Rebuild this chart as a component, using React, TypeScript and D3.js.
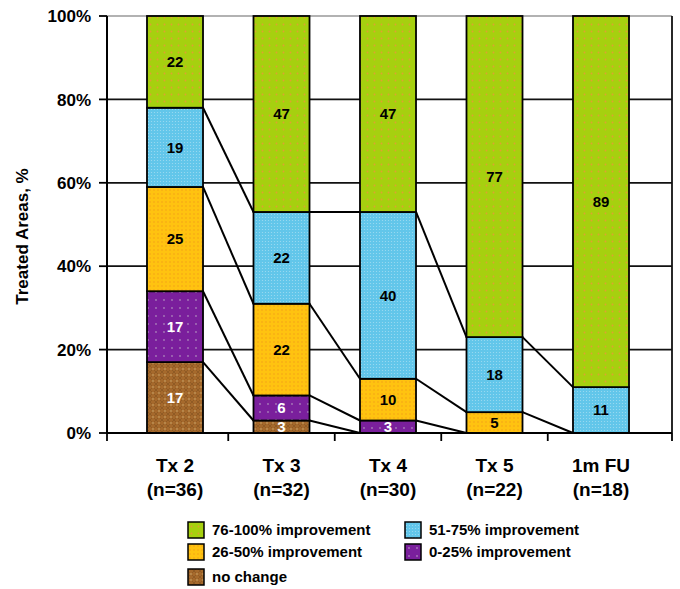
import React from "react";
import * as d3 from "d3";

// Treatment visits and the number of treated areas at each
const visits = ["Tx 2", "Tx 3", "Tx 4", "Tx 5", "1m FU"];
const counts = ["(n=36)", "(n=32)", "(n=30)", "(n=22)", "(n=18)"];

// Percentage of treated areas per improvement class, bottom to top
const noChange = [17, 3, 0, 0, 0];
const improve0to25 = [17, 6, 3, 0, 0];
const improve26to50 = [25, 22, 10, 5, 0];
const improve51to75 = [19, 22, 40, 18, 11];
const improve76to100 = [22, 47, 47, 77, 89];

const seriesNames = [
  "no change",
  "0-25% improvement",
  "26-50% improvement",
  "51-75% improvement",
  "76-100% improvement",
];
const seriesValues = [noChange, improve0to25, improve26to50, improve51to75, improve76to100];
const seriesColors = ["#a5692c", "#7a1f9c", "#ffc310", "#62c6ea", "#a6d00f"];
const labelColors = ["#fff", "#fff", "#000", "#000", "#000"];

const yTicks = [0, 20, 40, 60, 80, 100];

const W = 680;
const H = 589;
const plot = { left: 107, right: 672, top: 16, bottom: 433 };

export default function App() {
  const y = d3.scaleLinear().domain([0, 100]).range([plot.bottom, plot.top]);
  const x = d3
    .scaleBand<string>()
    .domain(visits)
    .range([121.75, 654.25])
    .paddingInner(0.474)
    .paddingOuter(0.237);
  const bw = x.bandwidth();
  const step = x.step();

  // stacked cumulative values per visit
  const stackData = visits.map((v, i) => {
    const row: Record<string, number | string> = { visit: v };
    seriesNames.forEach((s, k) => (row[s] = seriesValues[k][i]));
    return row;
  });
  const stack = d3.stack<Record<string, number | string>>().keys(seriesNames)(stackData as any);

  const fontFamily = "'Liberation Sans', Arial, sans-serif";

  // boundaries between categories for axis ticks
  const xTickPos = [
    plot.left,
    ...visits.slice(1).map((v) => (x(v) as number) - (step - bw) / 2),
    plot.right,
  ];

  const legendItems = [
    { k: 4, col: 0, row: 0 },
    { k: 3, col: 1, row: 0 },
    { k: 2, col: 0, row: 1 },
    { k: 1, col: 1, row: 1 },
    { k: 0, col: 0, row: 2 },
  ];
  const legendColX = [188, 405];
  const legendRowY = [530, 552, 577];

  return (
    <svg
      width={W}
      height={H}
      style={{ position: "absolute", left: 0, top: 0, background: "#fff" }}
      fontFamily={fontFamily}
    >
      <defs>
        <pattern id="p0" width="6" height="6" patternUnits="userSpaceOnUse">
          <rect width="6" height="6" fill={seriesColors[0]} />
          <path d="M0,0L6,6M6,0L0,6" stroke="#7a4a1c" strokeWidth="0.8" opacity="0.6" />
          <circle cx="3" cy="3" r="0.9" fill="#c99a5a" />
        </pattern>
        <pattern id="p1" width="8" height="8" patternUnits="userSpaceOnUse">
          <rect width="8" height="8" fill={seriesColors[1]} />
          <circle cx="4" cy="4" r="0.9" fill="#a77bb8" />
        </pattern>
        <pattern id="p2" width="4" height="4" patternUnits="userSpaceOnUse">
          <rect width="4" height="4" fill={seriesColors[2]} />
          <circle cx="2" cy="2" r="0.8" fill="#f29a18" opacity="0.8" />
        </pattern>
        <pattern id="p3" width="3" height="3" patternUnits="userSpaceOnUse">
          <rect width="3" height="3" fill={seriesColors[3]} />
          <circle cx="1.5" cy="1.5" r="0.6" fill="#9fdcf2" />
        </pattern>
        <pattern id="p4" width="7" height="7" patternUnits="userSpaceOnUse">
          <rect width="7" height="7" fill={seriesColors[4]} />
          <circle cx="3.5" cy="3.5" r="0.9" fill="#e0a030" />
        </pattern>
      </defs>

      {/* plot frame and gridlines */}
      <line x1={plot.left} x2={plot.right} y1={plot.top} y2={plot.top} stroke="#999" strokeWidth={1.5} />
      {yTicks.slice(1, -1).map((t) => (
        <line key={t} x1={plot.left} x2={plot.right} y1={y(t)} y2={y(t)} stroke="#111" strokeWidth={1.8} />
      ))}
      <line x1={plot.right} x2={plot.right} y1={plot.top} y2={plot.bottom} stroke="#111" strokeWidth={1.8} />

      {/* series lines joining the stacked segment tops of neighbouring bars */}
      {stack.slice(0, 4).map((layer, k) =>
        visits.slice(0, -1).map((v, i) => (
          <line
            key={`${k}-${i}`}
            x1={(x(v) as number) + bw}
            y1={y(layer[i][1])}
            x2={x(visits[i + 1]) as number}
            y2={y(layer[i + 1][1])}
            stroke="#000"
            strokeWidth={2}
          />
        ))
      )}

      {/* stacked bars */}
      {stack.map((layer, k) => (
        <g key={k}>
          {layer.map((d, i) =>
            d[1] - d[0] > 0 ? (
              <rect
                key={i}
                x={x(visits[i])}
                y={y(d[1])}
                width={bw}
                height={y(d[0]) - y(d[1])}
                fill={`url(#p${k})`}
                stroke="#000"
                strokeWidth={1.8}
              />
            ) : null
          )}
        </g>
      ))}

      {/* value labels */}
      {stack.map((layer, k) =>
        layer.map((d, i) =>
          d[1] - d[0] > 0 ? (
            <text
              key={`${k}-${i}`}
              x={(x(visits[i]) as number) + bw / 2}
              y={y((d[0] + d[1]) / 2)}
              dy="0.36em"
              textAnchor="middle"
              fontSize={15}
              fontWeight="bold"
              fill={labelColors[k]}
            >
              {seriesValues[k][i]}
            </text>
          ) : null
        )
      )}

      {/* axes */}
      <line x1={plot.left} x2={plot.left} y1={plot.top} y2={plot.bottom} stroke="#000" strokeWidth={2} />
      <line x1={plot.left} x2={plot.right} y1={plot.bottom} y2={plot.bottom} stroke="#000" strokeWidth={2} />
      {yTicks.map((t) => (
        <g key={t}>
          <line x1={plot.left - 8} x2={plot.left} y1={y(t)} y2={y(t)} stroke="#000" strokeWidth={1.8} />
          <text x={plot.left - 16} y={y(t)} dy="0.36em" textAnchor="end" fontSize={17} fontWeight="bold">
            {t}%
          </text>
        </g>
      ))}
      {xTickPos.map((p, i) => (
        <line key={i} x1={p} x2={p} y1={plot.bottom} y2={plot.bottom + 8} stroke="#000" strokeWidth={1.8} />
      ))}
      {visits.map((v, i) => (
        <text
          key={v}
          x={(x(v) as number) + bw / 2}
          textAnchor="middle"
          fontSize={19}
          fontWeight="bold"
        >
          <tspan x={(x(v) as number) + bw / 2} y={472}>
            {v}
          </tspan>
          <tspan x={(x(v) as number) + bw / 2} y={496}>
            {counts[i]}
          </tspan>
        </text>
      ))}
      <text
        transform={`translate(28,${(plot.top + plot.bottom) / 2 + 12}) rotate(-90)`}
        textAnchor="middle"
        fontSize={17}
        fontWeight="bold"
      >
        Treated Areas, %
      </text>

      {/* legend */}
      {legendItems.map(({ k, col, row }) => (
        <g key={k} transform={`translate(${legendColX[col]},${legendRowY[row]})`}>
          <rect x={0} y={-8} width={16} height={16} fill={`url(#p${k})`} stroke="#000" strokeWidth={1.5} />
          <text x={24} y={0} dy="0.36em" fontSize={15} fontWeight="bold">
            {seriesNames[k]}
          </text>
        </g>
      ))}
    </svg>
  );
}
